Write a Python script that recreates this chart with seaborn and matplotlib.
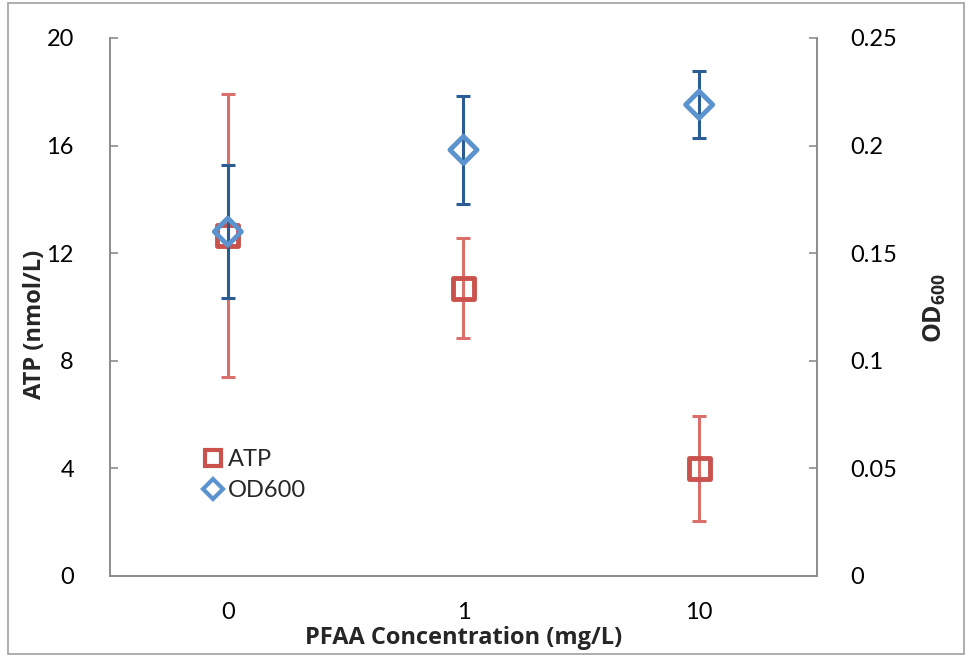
import matplotlib
matplotlib.use("Agg")
import matplotlib.pyplot as plt
import seaborn as sns
import pandas as pd
from matplotlib.patches import Rectangle
from matplotlib.lines import Line2D

categories = ["0", "1", "10"]
atp_values = [12.65, 10.7, 4.0]
atp_errors = [5.25, 1.85, 1.95]
od_values = [0.160, 0.198, 0.219]
od_errors = [0.031, 0.025, 0.0155]
left_ticks = [0, 4, 8, 12, 16, 20]
right_ticks = [0, 0.05, 0.1, 0.15, 0.2, 0.25]
right_tick_labels = ["0", "0.05", "0.1", "0.15", "0.2", "0.25"]

sns.set_theme(style="white")
plt.rcParams["font.family"] = ["Lato", "DejaVu Sans"]
plt.rcParams["mathtext.fontset"] = "custom"
plt.rcParams["mathtext.rm"] = "Open Sans"
plt.rcParams["mathtext.bf"] = "Open Sans:bold"

FONT = 17
LABEL_FONT = 17
GRAY = "#8c8c8c"
ATP_MARK = "#c9524d"
ATP_ERR = "#d9706b"
OD_MARK = "#5b93cf"
OD_ERR = "#2b5d94"

fig = plt.figure(figsize=(9.69, 6.55), dpi=100)
ax = fig.add_axes([110 / 969, 1 - 576 / 655, (817 - 110) / 969, (576 - 38) / 655])
ax2 = ax.twinx()

df_atp = pd.DataFrame({"x": categories, "y": atp_values})
df_od = pd.DataFrame({"x": categories, "y": od_values})

ax.errorbar(range(len(categories)), atp_values, yerr=atp_errors, fmt="none",
            ecolor=ATP_ERR, elinewidth=2.2, capsize=5, capthick=2.2, zorder=2)
sns.scatterplot(data=df_atp, x="x", y="y", ax=ax, marker="s", s=230,
                facecolor="none", edgecolor=ATP_MARK, linewidth=3.5, zorder=3, legend=False)

ax2.errorbar(range(len(categories)), od_values, yerr=od_errors, fmt="none",
             ecolor=OD_ERR, elinewidth=2.2, capsize=5, capthick=2.2, zorder=2)
sns.scatterplot(data=df_od, x="x", y="y", ax=ax2, marker="D", s=190,
                facecolor="none", edgecolor=OD_MARK, linewidth=3.5, zorder=3, legend=False)

for a in (ax, ax2):
    a.set_xlim(-0.5, 2.5)
    a.set_facecolor("none")
    a.grid(False)
    for s in a.spines.values():
        s.set_color(GRAY)
        s.set_linewidth(1.2)
    a.spines["top"].set_visible(False)

ax.set_ylim(0, 20)
ax2.set_ylim(0, 0.25)
ax.set_yticks(left_ticks)
ax.set_yticklabels([str(t) for t in left_ticks])
ax2.set_yticks(right_ticks)
ax2.set_yticklabels(right_tick_labels)

ax.set_xticks(range(len(categories)))
ax.set_xticklabels(categories)
ax.set_xticks([-0.5, 0.5, 1.5, 2.5], minor=True)
ax.tick_params(axis="x", which="major", length=0, pad=19, labelsize=FONT, colors="black")
ax.tick_params(axis="x", which="minor", length=7, width=1.2, color=GRAY, direction="out")
ax.tick_params(axis="y", which="major", length=6, width=1.2, color=GRAY, direction="in",
               pad=26, labelsize=FONT, labelcolor="black", left=True)
ax2.tick_params(axis="y", which="major", length=6, width=1.2, color=GRAY, direction="in",
                pad=24, labelsize=FONT, labelcolor="black", right=True)
ax2.tick_params(axis="x", length=0)

ax.set_xlabel("PFAA Concentration (mg/L)", fontsize=LABEL_FONT, fontweight="bold",
              family="Open Sans")
ax.xaxis.set_label_coords(0.5, (576 - 626) / 538)
ax.set_ylabel("ATP (nmol/L)", fontsize=LABEL_FONT, fontweight="bold",
              family="Open Sans")
ax.yaxis.set_label_coords((47 - 110) / 707, (576 - 324) / 538)
ax2.set_ylabel(r"$\mathbf{OD}_{\mathbf{600}}$", fontsize=LABEL_FONT + 1)
ax2.yaxis.set_label_coords((922 - 110) / 707, (576 - 308) / 538)

handles = [
    Line2D([], [], linestyle="none", marker="s", markersize=11, markerfacecolor="none",
           markeredgecolor=ATP_MARK, markeredgewidth=3),
    Line2D([], [], linestyle="none", marker="D", markersize=10, markerfacecolor="none",
           markeredgecolor=OD_MARK, markeredgewidth=3),
]
leg = ax2.legend(handles, ["ATP", "OD600"], loc="upper left",
                 bbox_to_anchor=(0.111, 0.258), frameon=False, fontsize=FONT,
                 handletextpad=0.05, labelspacing=0.42, handlelength=1.1, borderpad=0)

fig.patches.append(Rectangle((8 / 969, 1 - 654 / 655), (964 - 8) / 969, (654 - 3) / 655,
                             transform=fig.transFigure, fill=False, edgecolor="#a0a0a0",
                             linewidth=1.2))

fig.savefig("out.png", dpi=100, facecolor="white")
